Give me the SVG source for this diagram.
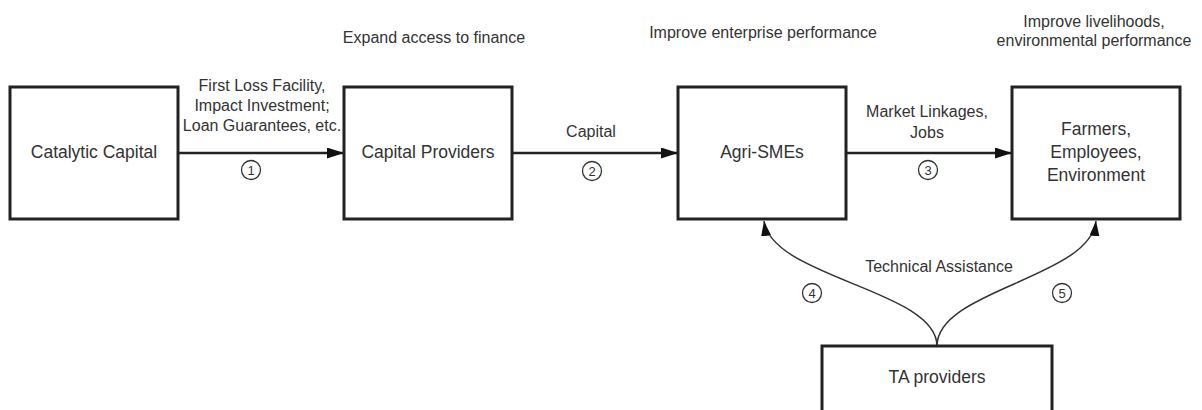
<svg xmlns="http://www.w3.org/2000/svg" width="1202" height="410" viewBox="0 0 1202 410">
<style>
.box{fill:#fff;stroke:#222;stroke-width:3}
.nl{font-family:"Liberation Sans",Arial,sans-serif;font-size:17.5px;fill:#333;text-anchor:middle}
.el{font-family:"Liberation Sans",Arial,sans-serif;font-size:16px;fill:#333;text-anchor:middle}
.hd{font-family:"Liberation Sans",Arial,sans-serif;font-size:16px;fill:#333;text-anchor:middle}
.num{font-family:"Liberation Sans",Arial,sans-serif;font-size:13px;fill:#333;text-anchor:middle}
.circ{fill:none;stroke:#333;stroke-width:1.3}
.str{fill:none;stroke:#222;stroke-width:2.5}
.crv{fill:none;stroke:#333;stroke-width:1.5}
</style>
<defs>
<marker id="ah" markerUnits="userSpaceOnUse" markerWidth="18" markerHeight="12" refX="17" refY="5.5" orient="auto">
<path d="M0,0 L17,5.5 L0,11 z" fill="#111"/>
</marker>
<marker id="ah2" markerUnits="userSpaceOnUse" markerWidth="16" markerHeight="11" refX="15" refY="5" orient="auto">
<path d="M0,0 L15,5 L0,10 z" fill="#111"/>
</marker>
</defs>
<rect width="1202" height="410" fill="#fff"/>

<g id="headings">
<text class="hd" x="434" y="43">Expand access to finance</text>
<text class="hd" x="763" y="38">Improve enterprise performance</text>
<text class="hd" x="1094" y="27">Improve livelihoods,</text>
<text class="hd" x="1094" y="46">environmental performance</text>
</g>

<g id="connectors">
<g id="e1">
<line class="str" x1="178" y1="153" x2="344" y2="153" marker-end="url(#ah)"/>
<text class="el" x="262" y="91">First Loss Facility,</text>
<text class="el" x="262" y="111">Impact Investment;</text>
<text class="el" x="262" y="131">Loan Guarantees, etc.</text>
<circle class="circ" cx="251" cy="170" r="9.5"/>
<text class="num" x="251" y="174.5">1</text>
</g>
<g id="e2">
<line class="str" x1="512" y1="153" x2="678" y2="153" marker-end="url(#ah)"/>
<text class="el" x="591" y="137">Capital</text>
<circle class="circ" cx="592" cy="171" r="9.5"/>
<text class="num" x="592" y="175.5">2</text>
</g>
<g id="e3">
<line class="str" x1="846" y1="153" x2="1012" y2="153" marker-end="url(#ah)"/>
<text class="el" x="927" y="117">Market Linkages,</text>
<text class="el" x="927" y="138">Jobs</text>
<circle class="circ" cx="928" cy="170" r="9.5"/>
<text class="num" x="928" y="174.5">3</text>
</g>
<g id="e4">
<path class="crv" d="M937,346 C937,290 772,278 764,221" marker-end="url(#ah2)"/>
<circle class="circ" cx="812" cy="293" r="9.5"/>
<text class="num" x="812" y="297.5">4</text>
</g>
<g id="e5">
<path class="crv" d="M937,346 C937,290 1090,278 1096,221" marker-end="url(#ah2)"/>
<circle class="circ" cx="1062" cy="293" r="9.5"/>
<text class="num" x="1062" y="297.5">5</text>
</g>
<text class="el" x="939" y="272">Technical Assistance</text>
</g>

<g id="n1">
<rect class="box" x="10" y="87" width="168" height="132"/>
<text class="nl" x="94" y="157.5">Catalytic Capital</text>
</g>
<g id="n2">
<rect class="box" x="344" y="87" width="168" height="132"/>
<text class="nl" x="428" y="157.5">Capital Providers</text>
</g>
<g id="n3">
<rect class="box" x="678" y="87" width="168" height="132"/>
<text class="nl" x="762" y="157.5">Agri-SMEs</text>
</g>
<g id="n4">
<rect class="box" x="1012" y="87" width="168" height="132"/>
<text class="nl" x="1096" y="135">Farmers,</text>
<text class="nl" x="1096" y="158">Employees,</text>
<text class="nl" x="1096" y="181">Environment</text>
</g>
<g id="n5">
<rect class="box" x="822" y="346" width="230" height="80"/>
<text class="nl" x="937" y="383">TA providers</text>
</g>
</svg>
